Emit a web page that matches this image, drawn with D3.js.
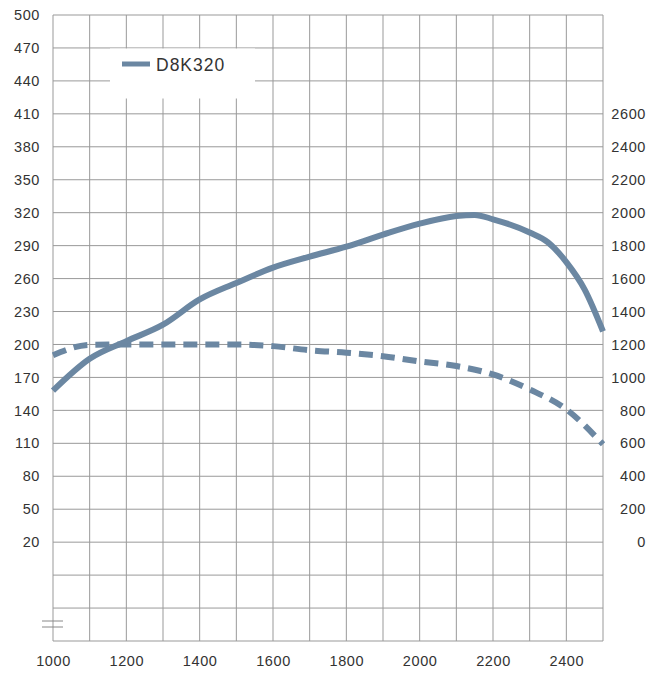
<!DOCTYPE html>
<html>
<head>
<meta charset="utf-8">
<script src="https://cdn.jsdelivr.net/npm/d3@7"></script>
<style>
body{margin:0;background:#fff;}
text{font-family:"Liberation Sans",Arial,sans-serif;fill:#333;}
</style>
</head>
<body>
<svg id="chart" width="662" height="675"></svg>
<script>
// engine speed (rpm)
var rpm = [1000,1100,1200,1300,1400,1500,1600,1700,1800,1900,2000,2100,2150,2200,2300,2350,2400,2450,2500];
// power, left axis (solid)
var power = [158,187,203,218,241,256,270,280,289,300,310,317,318,314,302,293,275,250,212];
// torque rpm + values, right axis (dashed)
var trpm = [1000,1100,1200,1300,1400,1500,1600,1700,1800,1900,2000,2100,2200,2300,2400,2500];
var torque = [1135,1198,1200,1200,1200,1200,1190,1165,1150,1129,1097,1069,1018,927,806,594];
var leftTicks = [500,470,440,410,380,350,320,290,260,230,200,170,140,110,80,50,20];
var rightTicks = [2600,2400,2200,2000,1800,1600,1400,1200,1000,800,600,400,200,0];
var xTicks = [1000,1200,1400,1600,1800,2000,2200,2400];
var seriesName = "D8K320";

var col = "#6b87a2";
var mLeft = 53, mRight = 603, mTop = 15, mBottom = 641;

var svg = d3.select("#chart");
var x = d3.scaleLinear().domain([1000,2500]).range([mLeft,mRight]);
var yL = d3.scaleLinear().domain([-70,500]).range([mBottom,mTop]);
// right axis shares the grid: 20 -> 0, 410 -> 2600
var yR = d3.scaleLinear().domain([0,2600]).range([yL(20),yL(410)]);

// grid
var g = svg.append("g");
var vlines = d3.range(1000,2501,100);
g.selectAll(".v").data(vlines).enter().append("line")
    .attr("x1",function(d){return x(d)}).attr("x2",function(d){return x(d)})
    .attr("y1",mTop).attr("y2",mBottom)
    .attr("stroke","#999").attr("stroke-width",1);
var hlines = d3.range(-70,501,30);
g.selectAll(".h").data(hlines).enter().append("line")
    .attr("x1",mLeft).attr("x2",mRight)
    .attr("y1",function(d){return yL(d)}).attr("y2",function(d){return yL(d)})
    .attr("stroke","#999").attr("stroke-width",1);

// axis break mark
g.append("line").attr("x1",42).attr("x2",63).attr("y1",621).attr("y2",621).attr("stroke","#888");
g.append("line").attr("x1",42).attr("x2",63).attr("y1",627).attr("y2",627).attr("stroke","#888");

// legend box
svg.append("rect").attr("x",110).attr("y",48.5).attr("width",145).attr("height",50).attr("fill","#fff");
svg.append("line").attr("x1",122).attr("x2",150).attr("y1",64).attr("y2",64)
    .attr("stroke",col).attr("stroke-width",5);
svg.append("text").attr("x",156).attr("y",70.5).attr("font-size","17.5px")
    .attr("letter-spacing","1px").attr("fill","#222").text(seriesName);

// axes labels
var yAxisL = d3.axisLeft(yL).tickValues(leftTicks).tickSize(0).tickPadding(13);
var gl = svg.append("g").attr("transform","translate("+mLeft+",0)").call(yAxisL);
var yAxisR = d3.axisRight(yR).tickValues(rightTicks).tickSize(0).tickPadding(8).tickFormat(d3.format("d"));
var gr = svg.append("g").attr("transform","translate(646,0)").call(yAxisR);
gr.selectAll("text").attr("text-anchor","end").attr("x",0);
var xAxis = d3.axisBottom(x).tickValues(xTicks).tickSize(0).tickPadding(15).tickFormat(d3.format("d"));
var gx = svg.append("g").attr("transform","translate(0,"+mBottom+")").call(xAxis);
[gl,gr,gx].forEach(function(a){
    a.select(".domain").remove();
    a.selectAll("text").attr("font-size","14.5px").attr("letter-spacing","0.6px")
        .attr("font-family","Liberation Sans, Arial, sans-serif").attr("fill","#333");
});

// curves
var lineP = d3.line().x(function(d,i){return x(rpm[i])}).y(function(d){return yL(d)}).curve(d3.curveMonotoneX);
var lineT = d3.line().x(function(d,i){return x(trpm[i])}).y(function(d){return yR(d)}).curve(d3.curveMonotoneX);
svg.append("path").attr("d",lineT(torque)).attr("fill","none")
    .attr("stroke",col).attr("stroke-width",6).attr("stroke-dasharray","14,8");
svg.append("path").attr("d",lineP(power)).attr("fill","none")
    .attr("stroke",col).attr("stroke-width",6);
</script>
</body>
</html>
